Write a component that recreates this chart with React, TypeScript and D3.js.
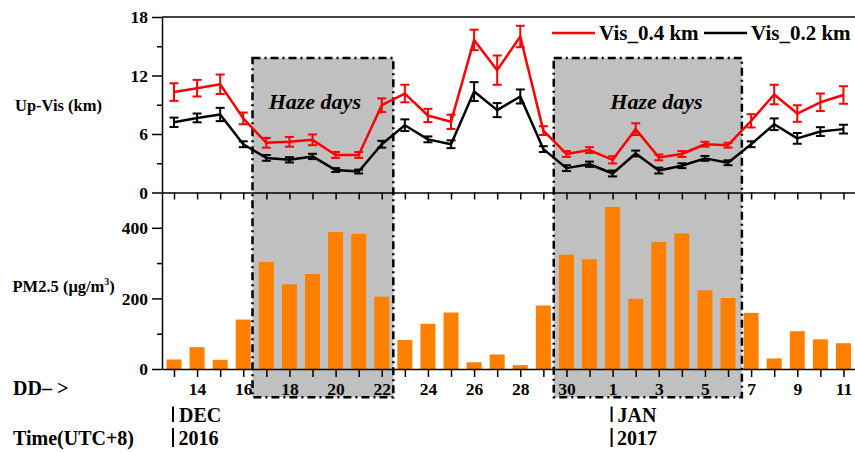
import { useRef, useEffect } from 'react';
import * as d3 from 'd3';

// Dec 13 2016 .. Jan 11 2017
const days = [
  '13', '14', '15', '16', '17', '18', '19', '20', '21', '22', '23', '24', '25', '26', '27', '28', '29', '30', '31',
  '1', '2', '3', '4', '5', '6', '7', '8', '9', '10', '11',
];

const vis04 = [10.3, 10.7, 11.1, 7.6, 5.1, 5.2, 5.4, 3.85, 3.85, 8.95, 10.15, 7.9, 7.25, 15.65, 12.55, 16.0, 6.35, 3.95, 4.35, 3.35, 6.5, 3.6, 3.95, 4.95, 4.85, 7.35, 10.05, 8.1, 9.25, 10.0];
const vis04Err = [0.9, 0.85, 1.0, 0.6, 0.5, 0.5, 0.55, 0.3, 0.3, 0.7, 0.9, 0.68, 0.73, 1.05, 1.5, 1.1, 0.45, 0.3, 0.3, 0.37, 0.6, 0.3, 0.3, 0.25, 0.25, 0.68, 1.0, 0.85, 0.9, 0.9];
const vis02 = [7.2, 7.65, 8.0, 4.95, 3.55, 3.35, 3.7, 2.3, 2.15, 4.95, 6.9, 5.45, 4.95, 10.35, 8.45, 9.85, 4.45, 2.5, 2.9, 1.95, 4.0, 2.25, 2.75, 3.5, 3.05, 4.95, 7.0, 5.55, 6.25, 6.5];
const vis02Err = [0.48, 0.45, 0.68, 0.3, 0.3, 0.27, 0.27, 0.2, 0.2, 0.35, 0.6, 0.3, 0.4, 0.97, 0.72, 0.72, 0.3, 0.3, 0.27, 0.3, 0.3, 0.3, 0.25, 0.25, 0.25, 0.3, 0.6, 0.55, 0.45, 0.45];
const pm25 = [27, 62, 26, 140, 303, 240, 269, 388, 383, 205, 82, 128, 160, 19, 41, 11, 180, 324, 311, 459, 199, 360, 384, 223, 201, 159, 30, 107, 84, 73];

const visTicks = [0, 6, 12, 18];
const visMinor = [3, 9, 15];
const pmTicks = [0, 200, 400];
const pmMinor = [100, 300];

// haze periods in day-index units
const hazeFrom = [3.4, 16.45];
const hazeTo = [9.5, 24.6];
const hazeLabelAt = [6.1, 20.9];

const months = ['DEC', 'JAN'];
const years = ['2016', '2017'];
const monthIdx = [0, 19];

const FONT = 'Liberation Serif, Times New Roman, serif';

export default function App() {
  const svgRef = useRef<SVGSVGElement>(null);

  useEffect(() => {
    if (!svgRef.current) return;
    const svg = d3.select(svgRef.current);
    svg.selectAll('*').remove();

    const idx = d3.range(days.length);
    const x = d3.scaleLinear().domain([-0.52, 29.5]).range([162, 855]);
    const yVis = d3.scaleLinear().domain([0, 18]).range([192.5, 17]);
    const yPm = d3.scaleLinear().domain([0, 500]).range([369, 192.5]);
    const barW = (x(1) - x(0)) * 0.65;

    const boxTop = yVis(13.8);
    const boxBottom = yPm(-80);

    const txt = (sel: d3.Selection<SVGTextElement, unknown, null, undefined>, size: number) =>
      sel.style('font-family', FONT).style('font-weight', 'bold').style('font-size', `${size}px`);

    // Haze boxes (fill)
    hazeFrom.forEach((f, i) => {
      svg.append('rect')
        .attr('x', x(f)).attr('y', boxTop)
        .attr('width', x(hazeTo[i]) - x(f))
        .attr('height', boxBottom - boxTop)
        .attr('fill', '#c0c0c0');
    });

    // PM2.5 bars
    svg.append('g').selectAll('rect').data(pm25).join('rect')
      .attr('x', (_, i) => x(i) - barW / 2)
      .attr('y', d => yPm(d))
      .attr('width', barW)
      .attr('height', d => yPm(0) - yPm(d))
      .attr('fill', '#ff8000');

    // Haze boxes (border)
    hazeFrom.forEach((f, i) => {
      svg.append('rect')
        .attr('x', x(f)).attr('y', boxTop)
        .attr('width', x(hazeTo[i]) - x(f))
        .attr('height', boxBottom - boxTop)
        .attr('fill', 'none')
        .attr('stroke', '#000')
        .attr('stroke-width', 2.5)
        .attr('stroke-dasharray', '8,4,2,4');
      txt(svg.append('text'), 22)
        .attr('x', x(hazeLabelAt[i]))
        .attr('y', yVis(8.56))
        .attr('text-anchor', 'middle')
        .style('font-style', 'italic')
        .text('Haze days');
    });

    const styleAxis = (g: d3.Selection<SVGGElement, unknown, null, undefined>, size: number) => {
      g.attr('font-family', null).attr('font-size', null);
      g.selectAll('text')
        .style('font-family', FONT).style('font-weight', 'bold').style('font-size', `${size}px`);
      g.selectAll('path').attr('stroke-width', 1.5);
      g.selectAll('line').attr('stroke-width', 1.5);
    };

    // top frame line
    svg.append('line')
      .attr('x1', x.range()[0]).attr('x2', x.range()[1])
      .attr('y1', yVis(18)).attr('y2', yVis(18))
      .attr('stroke', '#000').attr('stroke-width', 1.5);

    // Y axes
    const gVis = svg.append('g').attr('transform', `translate(${x.range()[0]},0)`)
      .call(d3.axisLeft(yVis).tickValues(visTicks).tickSize(10).tickSizeOuter(0).tickPadding(4));
    styleAxis(gVis, 17.5);
    const gVisMinor = svg.append('g').attr('transform', `translate(${x.range()[0]},0)`)
      .call(d3.axisLeft(yVis).tickValues(visMinor).tickSize(5).tickFormat(() => ''));
    styleAxis(gVisMinor, 17.5);
    gVisMinor.select('path').remove();

    const gPm = svg.append('g').attr('transform', `translate(${x.range()[0]},0)`)
      .call(d3.axisLeft(yPm).tickValues(pmTicks).tickSize(10).tickSizeOuter(0).tickPadding(4));
    styleAxis(gPm, 17.5);
    const gPmMinor = svg.append('g').attr('transform', `translate(${x.range()[0]},0)`)
      .call(d3.axisLeft(yPm).tickValues(pmMinor).tickSize(5).tickFormat(() => ''));
    styleAxis(gPmMinor, 17.5);
    gPmMinor.select('path').remove();

    // X axes
    const gMid = svg.append('g').attr('transform', `translate(0,${yVis(0)})`)
      .call(d3.axisBottom(x).tickValues(idx).tickSize(7).tickSizeOuter(0).tickFormat(() => ''));
    styleAxis(gMid, 17.5);

    const gBot = svg.append('g').attr('transform', `translate(0,${yPm(0)})`)
      .call(d3.axisBottom(x).tickValues(idx).tickSize(8).tickSizeOuter(0).tickFormat(() => ''));
    styleAxis(gBot, 17.5);

    const gBotLabels = svg.append('g').attr('transform', `translate(0,${yPm(0)})`)
      .call(d3.axisBottom(x).tickValues(idx.filter(i => i % 2 === 1)).tickSize(0)
        .tickPadding(13.5).tickFormat(i => days[+i]));
    styleAxis(gBotLabels, 17.5);
    gBotLabels.select('path').remove();

    // Visibility lines with error bars
    const series = [
      { values: vis02, err: vis02Err, color: '#000' },
      { values: vis04, err: vis04Err, color: '#ff0000' },
    ];
    const line = d3.line<number>().x((_, i) => x(i)).y(d => yVis(d));
    series.forEach(s => {
      svg.append('path')
        .datum(s.values)
        .attr('d', line)
        .attr('fill', 'none')
        .attr('stroke', s.color)
        .attr('stroke-width', 2.5)
        .attr('stroke-linejoin', 'round');
      const eb = svg.append('g').attr('stroke', s.color).attr('stroke-width', 2);
      s.values.forEach((v, i) => {
        const cx = x(i);
        const lo = yVis(v - s.err[i]);
        const hi = yVis(v + s.err[i]);
        eb.append('line').attr('x1', cx).attr('x2', cx).attr('y1', lo).attr('y2', hi);
        eb.append('line').attr('x1', cx - 4.5).attr('x2', cx + 4.5).attr('y1', lo).attr('y2', lo);
        eb.append('line').attr('x1', cx - 4.5).attr('x2', cx + 4.5).attr('y1', hi).attr('y2', hi);
      });
    });

    // Legend
    const legend = [
      { label: 'Vis_0.4 km', color: '#ff0000', x0: 552 },
      { label: 'Vis_0.2 km', color: '#000', x0: 704 },
    ];
    legend.forEach(l => {
      svg.append('line')
        .attr('x1', l.x0).attr('x2', l.x0 + 43)
        .attr('y1', 33).attr('y2', 33)
        .attr('stroke', l.color).attr('stroke-width', 2.5);
      txt(svg.append('text'), 21)
        .attr('x', l.x0 + 47).attr('y', 40)
        .text(l.label);
    });

    // Axis titles
    txt(svg.append('text'), 16.5)
      .attr('x', 15).attr('y', 110.5)
      .text('Up-Vis (km)');
    const pmTitle = txt(svg.append('text'), 16.5)
      .attr('x', 12.5).attr('y', 292);
    pmTitle.append('tspan').text('PM2.5 (μg/m');
    pmTitle.append('tspan').style('font-size', '10px').attr('dy', -7).text('3');
    pmTitle.append('tspan').attr('dy', 7).text(')');

    txt(svg.append('text'), 20)
      .attr('x', 13).attr('y', 395)
      .text('DD– >');
    txt(svg.append('text'), 20)
      .attr('x', 13).attr('y', 444.5)
      .text('Time(UTC+8)');

    // Month / year marks
    monthIdx.forEach((m, i) => {
      const mx = x(m) - 1;
      svg.append('line').attr('x1', mx).attr('x2', mx).attr('y1', 406.5).attr('y2', 422)
        .attr('stroke', '#000').attr('stroke-width', 2);
      svg.append('line').attr('x1', mx).attr('x2', mx).attr('y1', 428).attr('y2', 447)
        .attr('stroke', '#000').attr('stroke-width', 2);
      txt(svg.append('text'), 20)
        .attr('x', mx + 6).attr('y', 421.5)
        .text(months[i]);
      txt(svg.append('text'), 20)
        .attr('x', mx + 5.5).attr('y', 445)
        .text(years[i]);
    });
  }, []);

  return (
    <svg
      ref={svgRef}
      width={855}
      height={452}
      style={{ position: 'absolute', left: 0, top: 0, background: '#fff' }}
    />
  );
}
